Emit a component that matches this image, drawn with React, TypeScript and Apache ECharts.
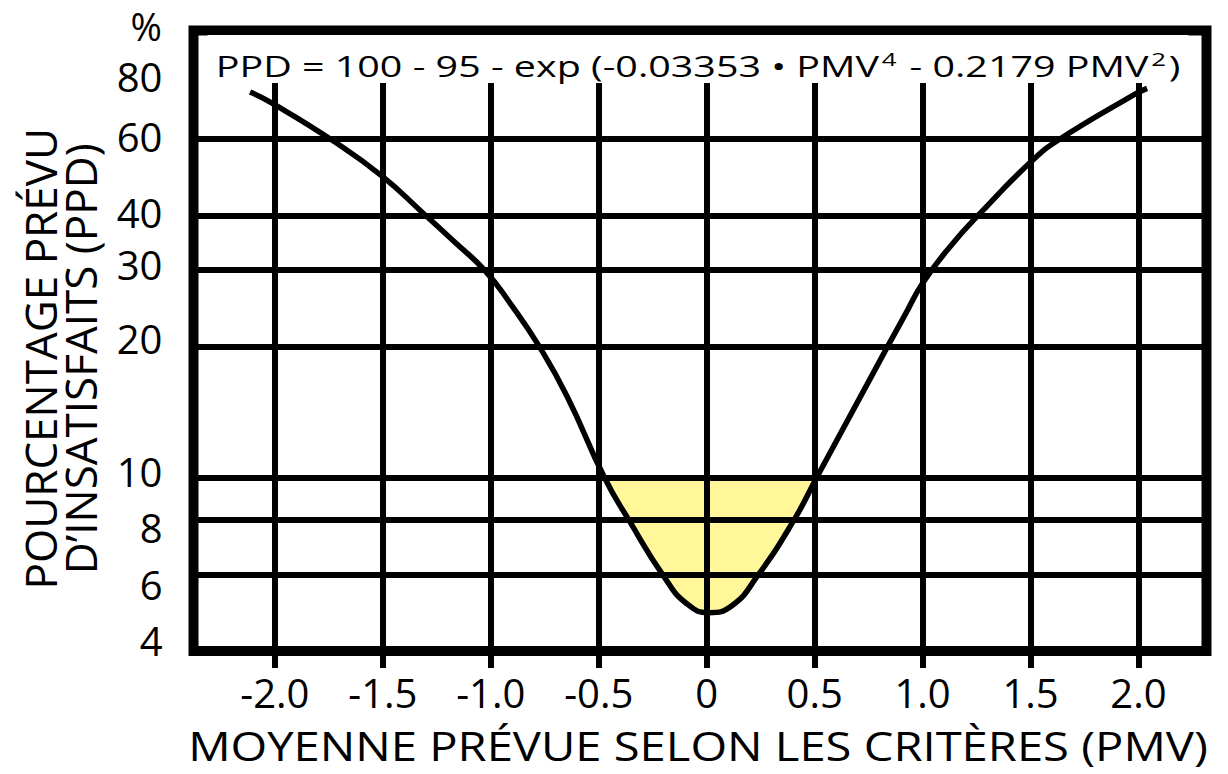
import React, { useEffect, useRef } from 'react';
import * as echarts from 'echarts';

// ---- data ----
const PMV_TICKS = [-2, -1.5, -1, -0.5, 0, 0.5, 1, 1.5, 2];
const PPD_GRID = [6, 8, 10, 20, 30, 40, 60];
const PPD_LABELS = [4, 6, 8, 10, 20, 30, 40, 60, 80];

const CURVE_PMV = [-2.115, -2.005, -1.729, -1.505, -1.312, -1.17, -1.026, -0.906, -0.78, -0.647, -0.473, -0.358, -0.197, -0.095, 0.011, 0.118, 0.232, 0.402, 0.509, 0.842, 0.921, 1.0, 1.132, 1.266, 1.498, 1.622, 1.984, 2.04];
const CURVE_PPD = [77.0, 72.2, 59.4, 49.4, 40.5, 34.9, 29.9, 25.0, 20.2, 15.4, 10, 7.96, 5.92, 5.15, 4.9, 5.09, 5.92, 7.96, 10, 20.2, 23.8, 28.0, 34.2, 40.5, 53.0, 59.4, 76.1, 78.5];

const COMFORT_PMV = [-0.473, -0.358, -0.197, -0.095, 0.011, 0.118, 0.232, 0.402, 0.509];
const COMFORT_PPD = [10, 7.96, 5.92, 5.15, 4.9, 5.09, 5.92, 7.96, 10];
const COMFORT_LIMIT = 10;

const X_NAME = 'MOYENNE PRÉVUE SELON LES CRITÈRES (PMV)';
const Y_NAME = 'POURCENTAGE PRÉVU\nD’INSATISFAITS (PPD)';
const UNIT = '%';
const FORMULA_PARTS = ['PPD = 100 - 95 - exp (-0.03353 • PMV', '4', ' - 0.2179 PMV', '2', ')'];

// ---- styling ----
const FONT = '"Open Sans", "Noto Sans", sans-serif';
const LABEL_NUDGE: Record<number, number> = { 4: -11, 6: 10, 8: 8, 10: -6, 20: -8, 30: -6, 40: -3, 60: -3, 80: -8 };

export default function App() {
  const ref = useRef<HTMLDivElement>(null);
  useEffect(() => {
    if (!ref.current) return;
    const chart = echarts.init(ref.current, undefined, { renderer: 'svg' });

    const yRich: Record<string, any> = {};
    PPD_LABELS.forEach((v, i) => {
      const n = LABEL_NUDGE[v] || 0;
      yRich['l' + i] = {
        fontSize: 40,
        fontFamily: FONT,
        color: '#000',
        padding: n < 0 ? [0, 0, -2 * n, 0] : [2 * n, 0, 0, 0],
      };
    });

    const option: any = {
      animation: false,
      backgroundColor: '#ffffff',
      textStyle: { fontFamily: FONT },
      grid: {
        left: 193.5,
        top: 30.5,
        width: 1013,
        height: 620.5,
        show: true,
        borderWidth: 10,
        borderColor: '#000',
        backgroundColor: 'transparent',
        containLabel: false,
        outerBoundsMode: 'none',
      },
      xAxis: {
        type: 'value',
        min: -2.377,
        max: 2.315,
        z: 3,
        axisLine: { show: false },
        axisTick: { show: true, length: 17, lineStyle: { width: 6, color: '#000' }, customValues: PMV_TICKS },
        axisLabel: {
          customValues: PMV_TICKS,
          formatter: (v: number) => (v === 0 ? '0' : v.toFixed(1)),
          fontSize: 40,
          lineHeight: 40,
          fontFamily: FONT,
          color: '#000',
          margin: 21,
        },
        splitLine: { show: true, lineStyle: { width: 6, color: '#000' } },
      },
      yAxis: {
        type: 'log',
        logBase: 10,
        min: 4,
        max: 106.6,
        z: 3,
        axisLine: { show: false },
        axisTick: { show: true, length: 17, lineStyle: { width: 6, color: '#000' }, customValues: PPD_GRID },
        axisLabel: {
          customValues: PPD_LABELS,
          formatter: (v: number) => {
            const i = PPD_LABELS.findIndex((x) => Math.abs(x - v) < 1e-6);
            return i < 0 ? String(Math.round(v)) : `{l${i}|${PPD_LABELS[i]}}`;
          },
          rich: yRich,
          fontSize: 40,
          fontFamily: FONT,
          color: '#000',
          margin: 31,
        },
        splitLine: { show: true, lineStyle: { width: 6, color: '#000' } },
        name: Y_NAME,
        nameLocation: 'middle',
        nameRotate: 90,
        nameGap: 94,
        nameTextStyle: {
          fontSize: 44,
          lineHeight: 40,
          color: '#000',
          fontFamily: FONT,
          align: 'center',
          padding: [0, 36, 0, 0],
        },
      },
      graphic: [
        {
          type: 'text',
          x: 162,
          y: 26,
          style: { text: UNIT, fontSize: 38, fontFamily: FONT, fill: '#000', align: 'right', verticalAlign: 'middle' },
        },
        {
          type: 'text',
          x: 698,
          y: 745,
          scaleX: 1.15,
          style: { text: X_NAME, fontSize: 41, fontFamily: FONT, fill: '#000', align: 'center', verticalAlign: 'middle' },
        },
        {
          type: 'text',
          x: 698,
          y: 59,
          scaleX: 1.36,
          z: 10,
          style: {
            text: `{a|${FORMULA_PARTS[0]}}{s|${FORMULA_PARTS[1]}}{a|${FORMULA_PARTS[2]}}{s|${FORMULA_PARTS[3]}}{a|${FORMULA_PARTS[4]}}`,
            align: 'center',
            verticalAlign: 'middle',
            fill: '#000',
            backgroundColor: '#ffffff',
            padding: [14, 6, 0, 6],
            rich: {
              a: { fontSize: 29, lineHeight: 34, fontFamily: FONT, fill: '#000' },
              s: { fontSize: 19, lineHeight: 22, fontFamily: FONT, fill: '#000', verticalAlign: 'top', padding: [0, 2, 0, 2] },
            },
          },
        },
      ],
      series: [
        {
          type: 'line',
          data: COMFORT_PMV.map((p, i) => [p, COMFORT_PPD[i]]),
          smooth: 0.5,
          symbol: 'none',
          lineStyle: { width: 0, opacity: 0 },
          areaStyle: { color: '#FFF799', opacity: 1, origin: COMFORT_LIMIT },
          z: 1,
          silent: true,
        },
        {
          type: 'line',
          data: CURVE_PMV.map((p, i) => [p, CURVE_PPD[i]]),
          smooth: 0.5,
          symbol: 'none',
          lineStyle: { color: '#000', width: 5.5 },
          z: 2,
          silent: true,
        },
      ],
    };
    chart.setOption(option);
    return () => chart.dispose();
  }, []);

  return (
    <div
      ref={ref}
      style={{ position: 'absolute', left: 0, top: 0, width: 1228, height: 774, background: '#fff' }}
    />
  );
}
